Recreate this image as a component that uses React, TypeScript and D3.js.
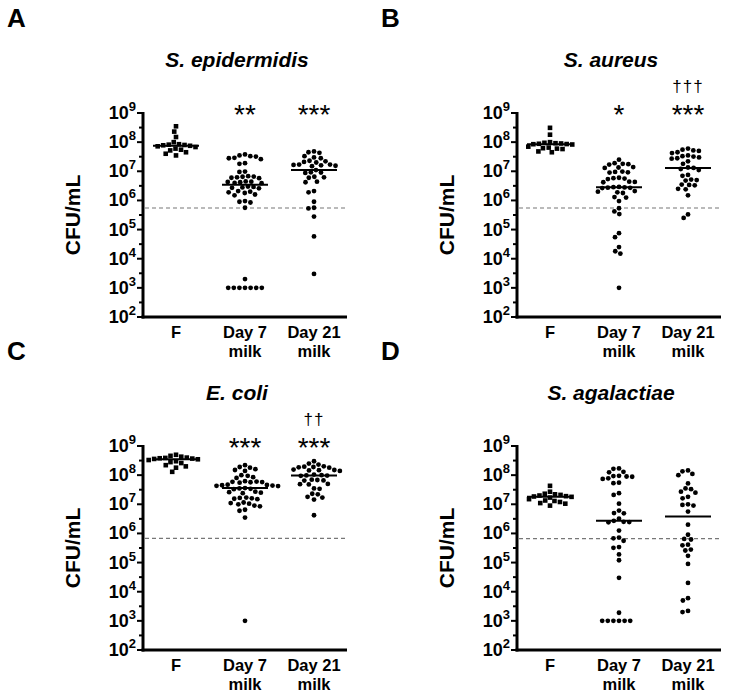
import React from "react";
import * as d3 from "d3";

// ---------- data ----------
const categories = ["F", "Day 7", "Day 21"];
const categorySub = ["", "milk", "milk"];
const panelLetters = ["A", "B", "C", "D"];
const panelTitles = ["S. epidermidis", "S. aureus", "E. coli", "S. agalactiae"];
const tickExponents = [2, 3, 4, 5, 6, 7, 8, 9];
const detectionLimits = [5.5e5, 5.5e5, 6.8e5, 6.6e5];
const starLabels = [["", "**", "***"], ["", "*", "***"], ["", "***", "***"], ["", "", ""]];
const daggerLabels = [["", "", ""], ["", "", "†††"], ["", "", "††"], ["", "", ""]];

const epiF = [3.5e8, 2.3e8, 1.5e8, 1.0e8, 8.5e7, 8.0e7, 7.8e7, 7.5e7, 8.2e7, 7.2e7, 6.8e7, 6.0e7, 5.5e7, 5.2e7, 4.5e7, 4.0e7, 3.5e7];
const epiD7 = [3.8e7, 3.5e7, 3.3e7, 3.2e7, 2.9e7, 2.8e7, 2.6e7, 1.9e7, 1.8e7, 9.8e6, 9.5e6, 6.8e6, 6.5e6, 6.2e6, 6.0e6, 5.8e6, 6.6e6, 4.5e6, 4.3e6, 4.2e6, 4.0e6, 3.9e6, 4.4e6, 2.9e6, 2.8e6, 3.0e6, 2.7e6, 2.6e6, 2.0e6, 1.9e6, 1.8e6, 1.6e6, 1.5e6, 2.1e6, 9.5e5, 9.0e5, 8.5e5, 5.6e5, 2.0e3, 1e3, 1e3, 1e3, 1e3, 1e3, 1e3, 1e3];
const epiD21 = [4.8e7, 4.5e7, 4.3e7, 3.3e7, 3.0e7, 2.8e7, 2.2e7, 2.1e7, 2.0e7, 2.3e7, 1.7e7, 1.6e7, 1.55e7, 1.65e7, 1.5e7, 1.7e7, 1.1e7, 9.0e6, 8.8e6, 9.2e6, 6.5e6, 6.2e6, 6.0e6, 4.4e6, 4.2e6, 2.1e6, 1.9e6, 9.0e5, 5.6e5, 5.3e5, 2.8e5, 5.8e4, 3.0e3];

const aurF = [3.1e8, 1.8e8, 1.0e8, 9.5e7, 9.2e7, 9.0e7, 8.8e7, 8.6e7, 8.5e7, 8.3e7, 7.0e7, 6.5e7, 6.2e7, 6.0e7, 5.8e7, 4.8e7, 4.5e7];
const aurD7 = [2.5e7, 1.9e7, 1.8e7, 1.75e7, 1.7e7, 1.4e7, 1.35e7, 1.3e7, 9.8e6, 9.5e6, 9.2e6, 9.0e6, 6.0e6, 5.8e6, 5.6e6, 5.4e6, 4.4e6, 4.3e6, 4.2e6, 2.9e6, 2.85e6, 2.8e6, 2.75e6, 2.7e6, 2.65e6, 2.1e6, 2.0e6, 1.9e6, 1.8e6, 1.3e6, 1.25e6, 9.5e5, 5.4e5, 4.2e5, 3.4e5, 7.5e4, 5.5e4, 2.5e4, 1.8e4, 1.5e4, 1e3];
const aurD21 = [6.0e7, 5.5e7, 5.2e7, 5.0e7, 4.5e7, 4.2e7, 3.5e7, 3.3e7, 3.2e7, 3.0e7, 2.8e7, 2.7e7, 2.2e7, 1.8e7, 1.35e7, 1.3e7, 1.2e7, 1.1e7, 7.5e6, 7.0e6, 5.2e6, 5.0e6, 4.8e6, 3.5e6, 3.4e6, 3.3e6, 2.5e6, 2.4e6, 1.5e6, 3.3e5, 2.5e5];

const coliF = [5.0e8, 4.6e8, 4.3e8, 4.0e8, 3.9e8, 3.8e8, 3.7e8, 3.6e8, 3.5e8, 3.3e8, 3.0e8, 2.8e8, 2.6e8, 2.2e8, 2.0e8, 1.8e8, 1.3e8];
const coliD7 = [2.2e8, 1.9e8, 1.8e8, 1.6e8, 1.5e8, 1.4e8, 1.0e8, 9.5e7, 8.5e7, 8.0e7, 6.2e7, 6.0e7, 5.9e7, 5.8e7, 5.7e7, 5.5e7, 4.7e7, 4.6e7, 4.5e7, 4.4e7, 4.3e7, 4.2e7, 3.6e7, 3.5e7, 3.4e7, 3.3e7, 2.7e7, 2.6e7, 2.5e7, 2.4e7, 1.7e7, 1.65e7, 1.6e7, 1.55e7, 1.5e7, 1.15e7, 1.1e7, 1.05e7, 1.0e7, 9.0e6, 8.5e6, 6.5e6, 6.0e6, 3.5e6, 1e3];
const coliD21 = [3.0e8, 2.5e8, 2.3e8, 2.0e8, 1.95e8, 1.9e8, 1.85e8, 1.8e8, 1.55e8, 1.5e8, 1.48e8, 1.45e8, 1.4e8, 1.05e8, 1.0e8, 9.8e7, 9.7e7, 9.5e7, 7.0e7, 6.8e7, 6.6e7, 6.5e7, 5.0e7, 4.9e7, 4.8e7, 3.5e7, 3.4e7, 2.3e7, 2.2e7, 1.8e7, 1.7e7, 1.45e7, 4.2e6];

const agaF = [4.3e7, 2.7e7, 2.3e7, 2.2e7, 2.1e7, 2.0e7, 1.9e7, 1.85e7, 1.8e7, 1.7e7, 1.5e7, 1.35e7, 1.3e7, 1.2e7, 1.1e7, 1.05e7, 9.0e6];
const agaD7 = [1.7e8, 1.65e8, 1.3e8, 1.25e8, 9.5e7, 9.3e7, 9.0e7, 8.8e7, 7.8e7, 7.4e7, 5.5e7, 5.3e7, 2.4e7, 2.1e7, 1.05e7, 6.1e6, 5.0e6, 4.9e6, 3.2e6, 2.7e6, 2.5e6, 2.45e6, 2.4e6, 1.25e6, 7.2e5, 6.8e5, 5.6e5, 3.4e5, 3.2e5, 1.9e5, 1.2e5, 3.0e4, 1.9e3, 1e3, 1e3, 1e3, 1e3, 1e3, 1e3];
const agaD21 = [1.45e8, 1.35e8, 1.1e8, 1.0e8, 5.2e7, 3.5e7, 3.3e7, 2.7e7, 2.5e7, 1.8e7, 1.6e7, 1.0e7, 9.5e6, 9.0e6, 5.6e6, 2.0e6, 9.0e5, 6.5e5, 6.2e5, 4.1e5, 3.9e5, 2.8e5, 2.6e5, 1.7e5, 9.0e4, 2.0e4, 6.0e3, 5.0e3, 2.2e3, 2.0e3];

const panelSeries = [
  [epiF, epiD7, epiD21],
  [aurF, aurD7, aurD21],
  [coliF, coliD7, coliD21],
  [agaF, agaD7, agaD21],
];

// ---------- layout ----------
const W = 734;
const H = 694;
const FONT = "'Liberation Sans', Arial, Helvetica, sans-serif";
const panelOffsets = [[0, 0], [374, 0], [0, 333], [374, 333]];
const AX = 143;
const AX_END = 347;
const Y_TOP = 113;
const Y_BOT = 317;

function swarm(ys: number[], d: number): number[] {
  const order = ys.map((_, i) => i).sort((a, b) => ys[a] - ys[b]);
  const placed: { x: number; y: number }[] = [];
  const xs = new Array(ys.length).fill(0);
  for (const i of order) {
    const y = ys[i];
    const iv: [number, number][] = [];
    for (const p of placed) {
      const dy = Math.abs(p.y - y);
      if (dy < d) {
        const w = Math.sqrt(d * d - dy * dy);
        iv.push([p.x - w, p.x + w]);
      }
    }
    const cands = [0];
    iv.forEach(([a, b]) => cands.push(a, b));
    cands.sort((a, b) => Math.abs(a) - Math.abs(b) || a - b);
    let best = 0;
    for (const c of cands) {
      if (iv.every(([a, b]) => c <= a + 1e-6 || c >= b - 1e-6)) {
        best = c;
        break;
      }
    }
    xs[i] = best;
    placed.push({ x: best, y });
  }
  return xs;
}

function Panel({ idx }: { idx: number }) {
  const [ox, oy] = panelOffsets[idx];
  const y = d3.scaleLog().domain([1e2, 1e9]).range([Y_BOT, Y_TOP]);
  const x = d3.scalePoint<string>().domain(categories).range([176, 314]).padding(0);
  const series = panelSeries[idx];
  const minorTicks = tickExponents.slice(0, -1).map((e) => Math.pow(10, e + 0.5));

  return (
    <g transform={`translate(${ox},${oy})`} fontFamily={FONT}>
      <text x={7} y={27} fontSize={26} fontWeight="bold">{panelLetters[idx]}</text>
      <text x={(AX + AX_END) / 2 - 8} y={Y_TOP - 46} fontSize={21} fontWeight="bold" fontStyle="italic" textAnchor="middle">
        {panelTitles[idx]}
      </text>
      <text transform={`translate(80,${(Y_TOP + Y_BOT) / 2}) rotate(-90)`} fontSize={21} fontWeight="bold" textAnchor="middle">
        CFU/mL
      </text>

      {/* detection limit */}
      <line x1={AX + 2} x2={AX_END} y1={y(detectionLimits[idx])} y2={y(detectionLimits[idx])}
        stroke="#777" strokeWidth={1.2} strokeDasharray="4,3" />

      {/* y axis */}
      <line x1={AX} x2={AX} y1={Y_TOP - 1} y2={Y_BOT + 1.5} stroke="#000" strokeWidth={3} />
      {tickExponents.map((e) => (
        <g key={e}>
          <line x1={AX - 6} x2={AX} y1={y(Math.pow(10, e))} y2={y(Math.pow(10, e))} stroke="#000" strokeWidth={2} />
          <text x={AX - 7} y={y(Math.pow(10, e)) + 6} textAnchor="end" fontWeight="bold" fontSize={18}>
            <tspan>10</tspan>
            <tspan dy={-8} fontSize={13}>{e}</tspan>
          </text>
        </g>
      ))}
      {minorTicks.map((v, i) => (
        <line key={i} x1={AX - 4} x2={AX} y1={y(v)} y2={y(v)} stroke="#000" strokeWidth={2} />
      ))}

      {/* x axis */}
      <line x1={AX - 1.5} x2={AX_END} y1={Y_BOT} y2={Y_BOT} stroke="#000" strokeWidth={3} />
      {categories.map((c, i) => (
        <g key={c}>
          <text x={x(c)} y={Y_BOT + 21} textAnchor="middle" fontWeight="bold" fontSize={16.5}>{c}</text>
          {categorySub[i] && (
            <text x={x(c)} y={Y_BOT + 40} textAnchor="middle" fontWeight="bold" fontSize={16.5}>{categorySub[i]}</text>
          )}
          {starLabels[idx][i] && (
            <text x={x(c)} y={Y_TOP + 11} textAnchor="middle" fontSize={28}>{starLabels[idx][i]}</text>
          )}
          {daggerLabels[idx][i] && (
            <text x={x(c)} y={Y_TOP - 21} textAnchor="middle" fontSize={17} letterSpacing={1}>{daggerLabels[idx][i]}</text>
          )}
        </g>
      ))}

      {/* points */}
      {series.map((vals, ci) => {
        const cx = x(categories[ci]) as number;
        const ys = vals.map((v) => y(v));
        const xs = swarm(ys, 5.6);
        const med = d3.median(vals) as number;
        return (
          <g key={ci}>
            {vals.map((v, k) =>
              ci === 0 ? (
                <rect key={k} x={cx + xs[k] - 2.3} y={ys[k] - 2.3} width={4.6} height={4.6} fill="#000" />
              ) : (
                <circle key={k} cx={cx + xs[k]} cy={ys[k]} r={2.4} fill="#000" />
              )
            )}
            <line x1={cx - 23} x2={cx + 23} y1={y(med)} y2={y(med)} stroke="#000" strokeWidth={2} />
          </g>
        );
      })}
    </g>
  );
}

export default function App() {
  return (
    <svg width={W} height={H} style={{ position: "absolute", left: 0, top: 0, background: "#fff" }}>
      <rect width={W} height={H} fill="#fff" />
      {[0, 1, 2, 3].map((i) => (
        <Panel key={i} idx={i} />
      ))}
    </svg>
  );
}
